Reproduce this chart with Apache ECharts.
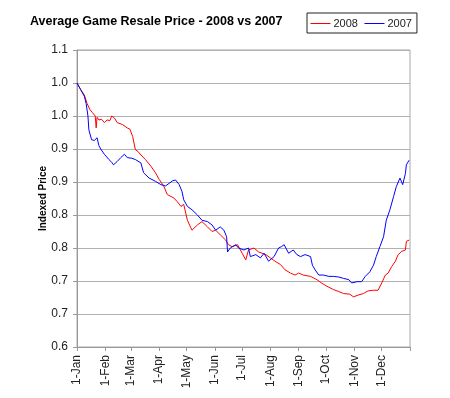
<!DOCTYPE html>
<html>
<head>
    <meta charset="UTF-8">
    <title>Average Game Resale Price - 2008 vs 2007</title>
    <script src="https://cdn.jsdelivr.net/npm/echarts@6/dist/echarts.min.js"></script>
    <style>
        body { margin: 0; background: #fff; }
    </style>
</head>
<body>
<div id="main" style="width: 450px;height:398px;"></div>
<script type="text/javascript">
    // 月份刻度（一年中的第几天）
    let monthDays = [0, 31, 59, 90, 120, 151, 181, 212, 243, 273, 304, 334, 365];
    let monthLabels = ['1-Jan', '1-Feb', '1-Mar', '1-Apr', '1-May', '1-Jun', '1-Jul', '1-Aug', '1-Sep', '1-Oct', '1-Nov', '1-Dec', ''];
    // Excel 把 0.05 间隔的刻度四舍五入成一位小数
    let yTickLabels = ['0.6', '0.7', '0.7', '0.8', '0.8', '0.9', '0.9', '1.0', '1.0', '1.1'];

    // 2008 数据
    let days2008 = [0, 4, 8, 11, 14, 17, 20, 21, 22, 24, 27, 30, 33, 36, 38, 41, 44, 46, 50, 55, 58, 61, 64, 67, 70, 75, 81, 86, 90, 95, 99, 103, 106, 110, 114, 117, 121, 126, 132, 137, 143, 148, 152, 157, 163, 166, 170, 176, 181, 185, 188, 194, 199, 207, 212, 217, 223, 228, 234, 239, 243, 248, 256, 263, 268, 274, 281, 287, 292, 299, 303, 309, 314, 319, 325, 330, 334, 338, 341, 345, 349, 352, 356, 360, 361, 364];
    let price2008 = [1.0, 0.99, 0.982, 0.969, 0.96, 0.955, 0.95, 0.932, 0.948, 0.944, 0.945, 0.94, 0.944, 0.943, 0.95, 0.947, 0.94, 0.937, 0.937, 0.932, 0.93, 0.919, 0.899, 0.896, 0.891, 0.884, 0.874, 0.864, 0.854, 0.844, 0.831, 0.828, 0.826, 0.82, 0.813, 0.816, 0.792, 0.777, 0.785, 0.79, 0.782, 0.775, 0.777, 0.77, 0.762, 0.755, 0.752, 0.755, 0.742, 0.732, 0.747, 0.75, 0.744, 0.74, 0.735, 0.73, 0.725, 0.717, 0.712, 0.709, 0.712, 0.709, 0.707, 0.702, 0.697, 0.692, 0.687, 0.684, 0.681, 0.68, 0.676, 0.679, 0.681, 0.685, 0.686, 0.686, 0.697, 0.709, 0.712, 0.722, 0.73, 0.74, 0.745, 0.747, 0.76, 0.762];

    // 2007 数据
    let days2007 = [0, 4, 8, 10, 12, 13, 16, 19, 21, 22, 24, 26, 30, 35, 38, 40, 44, 48, 52, 55, 57, 60, 64, 70, 73, 79, 86, 92, 97, 101, 105, 108, 112, 115, 117, 121, 126, 132, 137, 143, 148, 152, 157, 161, 164, 165, 168, 174, 177, 183, 188, 190, 196, 201, 205, 210, 216, 221, 224, 227, 232, 237, 241, 245, 250, 256, 258, 261, 265, 270, 276, 281, 287, 292, 298, 301, 307, 312, 316, 321, 325, 328, 332, 336, 339, 343, 347, 350, 354, 357, 360, 361, 364];
    let price2007 = [1.0, 0.99, 0.98, 0.969, 0.95, 0.929, 0.914, 0.913, 0.912, 0.917, 0.905, 0.9, 0.892, 0.884, 0.88, 0.876, 0.881, 0.887, 0.892, 0.887, 0.884, 0.886, 0.884, 0.879, 0.864, 0.856, 0.851, 0.846, 0.844, 0.848, 0.852, 0.853, 0.846, 0.836, 0.823, 0.813, 0.808, 0.8, 0.792, 0.79, 0.785, 0.777, 0.782, 0.777, 0.767, 0.744, 0.75, 0.755, 0.75, 0.747, 0.75, 0.737, 0.74, 0.735, 0.742, 0.73, 0.737, 0.75, 0.752, 0.755, 0.742, 0.747, 0.74, 0.737, 0.74, 0.737, 0.724, 0.717, 0.709, 0.709, 0.707, 0.707, 0.706, 0.704, 0.702, 0.697, 0.699, 0.699, 0.707, 0.714, 0.724, 0.737, 0.752, 0.767, 0.792, 0.808, 0.828, 0.843, 0.856, 0.846, 0.863, 0.876, 0.883];

    let colors = ['#ff0000', '#0000ff'];

    let data2008 = days2008.map((d, i) => [d, price2008[i]]);
    let data2007 = days2007.map((d, i) => [d, price2007[i]]);

    var myChart = echarts.init(document.getElementById('main'));

    let option = {
        animation: false,
        color: colors,
        textStyle: {
            fontFamily: 'Liberation Sans, Arial, sans-serif'
        },
        title: {
            text: 'Average Game Resale Price - 2008 vs 2007',
            left: 30,
            top: 15,
            padding: 0,
            textStyle: {
                fontSize: 12.5,
                fontWeight: 'bold',
                color: '#000'
            }
        },
        legend: {
            left: 307,
            top: 13,
            padding: [5, 5, 4, 3],
            itemGap: 6,
            itemWidth: 20,
            itemHeight: 8,
            borderColor: '#222',
            borderWidth: 1,
            backgroundColor: '#fff',
            textStyle: {
                fontSize: 11,
                color: '#222',
                padding: [0, 0, 0, -2]
            },
            data: [
                {
                    name: '2008',
                    itemStyle: { color: colors[0], opacity: 0, shadowBlur: 0, shadowColor: 'transparent' },
                    lineStyle: { color: colors[0], width: 1, opacity: 1, shadowBlur: 0, shadowColor: 'transparent' }
                },
                {
                    name: '2007',
                    itemStyle: { color: colors[1], opacity: 0, shadowBlur: 0, shadowColor: 'transparent' },
                    lineStyle: { color: colors[1], width: 1, opacity: 1, shadowBlur: 0, shadowColor: 'transparent' }
                }
            ]
        },
        grid: {
            left: 77,
            top: 50,
            right: 40,
            bottom: 51,
            show: true,
            borderColor: '#a8a8a8',
            borderWidth: 1
        },
        xAxis: {
            type: 'value',
            min: 0,
            max: 365,
            axisLine: { lineStyle: { color: '#999' } },
            axisTick: {
                customValues: monthDays,
                length: 4,
                lineStyle: { color: '#999' }
            },
            axisLabel: {
                customValues: monthDays.slice(0, 12),
                rotate: 90,
                fontSize: 12,
                color: '#222',
                margin: 8,
                formatter: function (v) {
                    return monthLabels[monthDays.indexOf(v)];
                }
            },
            splitLine: { show: false }
        },
        yAxis: {
            type: 'value',
            min: 0.6,
            max: 1.05,
            interval: 0.05,
            name: 'Indexed Price',
            nameLocation: 'middle',
            nameRotate: 90,
            nameGap: 29,
            nameMoveOverlap: false,
            nameTextStyle: {
                fontSize: 10,
                fontWeight: 'bold',
                color: '#000'
            },
            axisLine: { show: true, lineStyle: { color: '#999' } },
            axisTick: { show: true, length: 4, lineStyle: { color: '#999' } },
            axisLabel: {
                fontSize: 12,
                color: '#222',
                margin: 9,
                formatter: function (v) {
                    return yTickLabels[Math.round((v - 0.6) / 0.05)];
                }
            },
            splitLine: { lineStyle: { color: '#b0b0b0' } }
        },
        series: [
            {
                name: '2008',
                type: 'line',
                showSymbol: false,
                lineStyle: { width: 1 },
                data: data2008
            },
            {
                name: '2007',
                type: 'line',
                showSymbol: false,
                lineStyle: { width: 1 },
                data: data2007
            }
        ]
    };

    myChart.setOption(option);
</script>
</body>
</html>
